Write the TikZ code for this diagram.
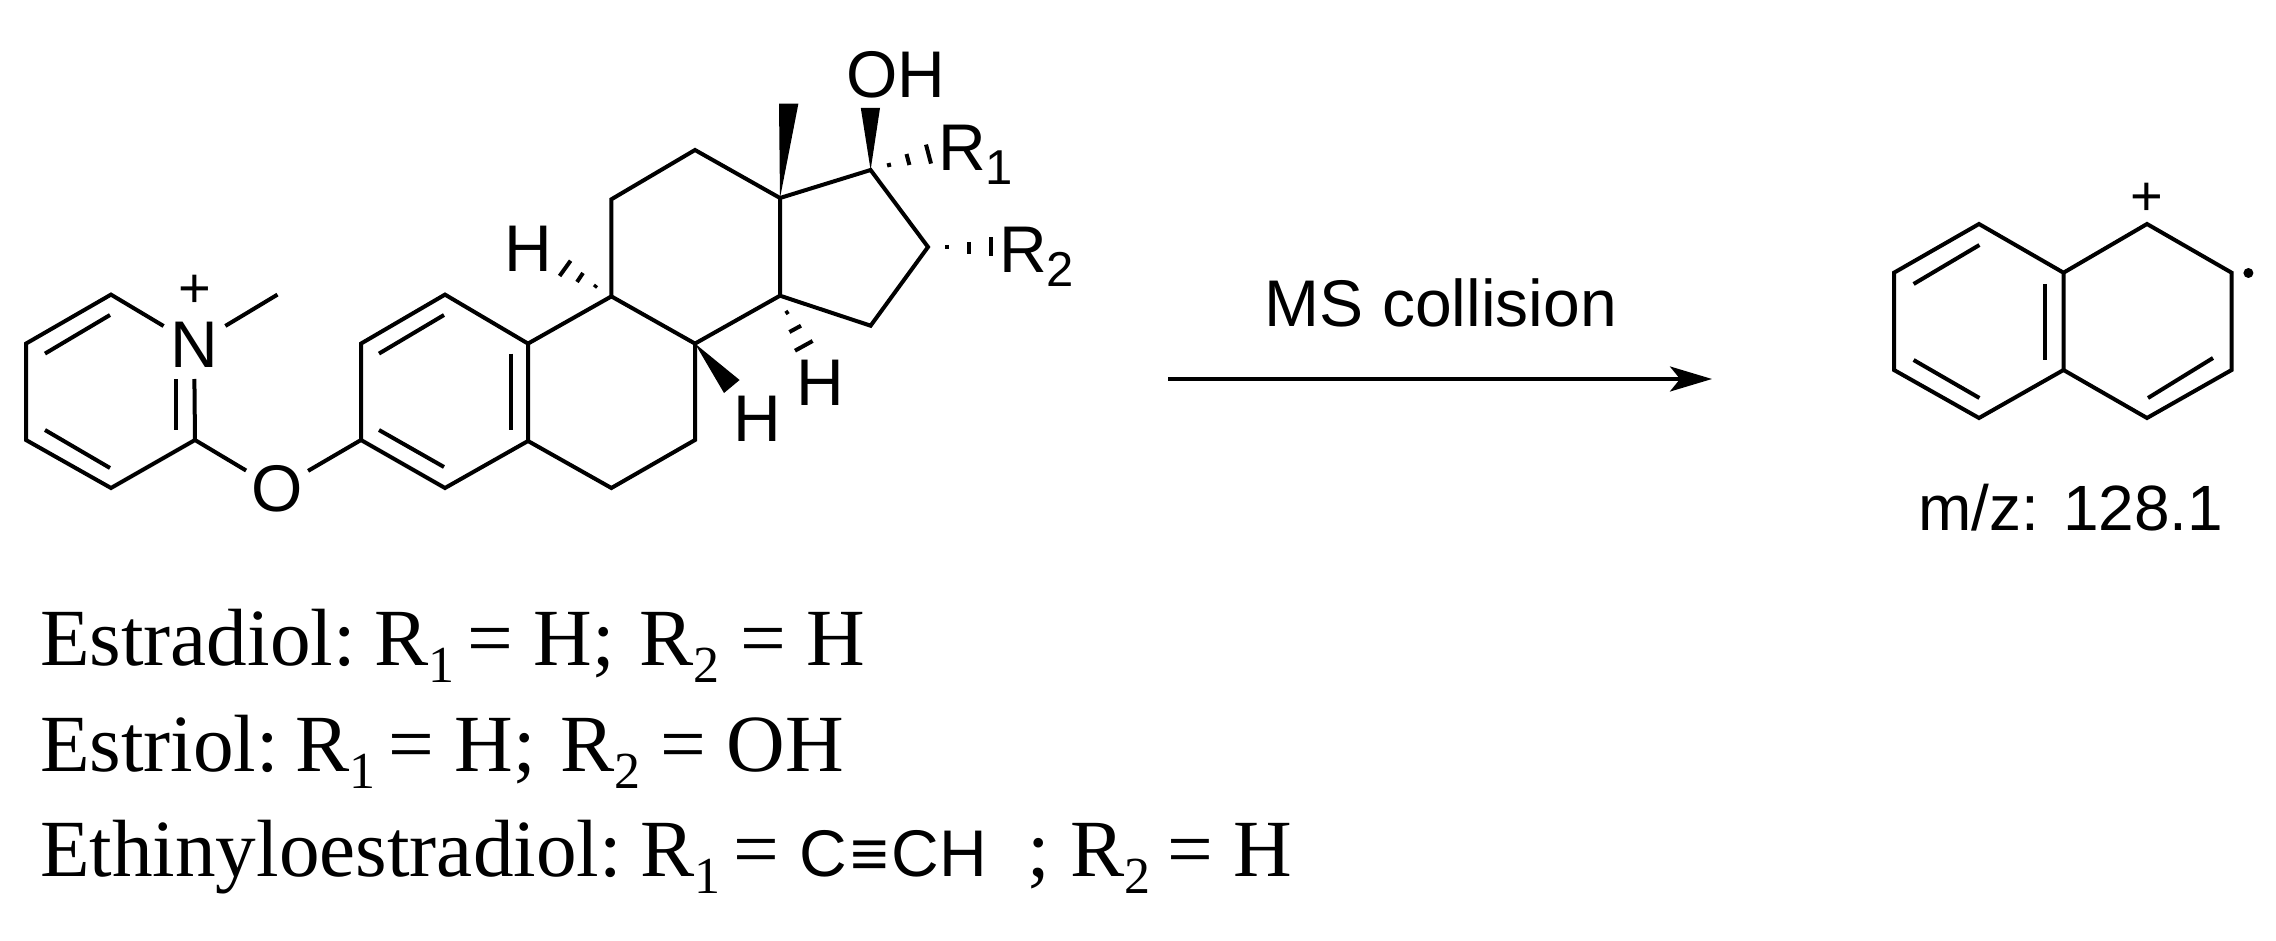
\documentclass[tikz,border=0pt]{standalone}
\usepackage{fontspec}
\setmainfont{Liberation Serif}
\newfontfamily\arialf{Liberation Sans}
\usetikzlibrary{arrows.meta}
\newcommand{\capsub}[1]{\raisebox{-8.5pt}{\fontsize{26}{26}\selectfont #1}}
\newcommand{\lblsub}[1]{\raisebox{-7pt}{\fontsize{24.5}{24.5}\selectfont #1}}
\tikzset{
  bond/.style={line width=2pt,line join=miter,line cap=butt},
  hashmark/.style={line width=2pt,line cap=butt},
  lbl/.style={inner sep=0pt,outer sep=0pt,font=\arialf\fontsize{33}{33}\selectfont},
  atomlbl/.style={lbl,circle,minimum size=36pt},
  pluslbl/.style={inner sep=0pt,outer sep=0pt,font=\arialf\fontsize{28}{28}\selectfont},
  caption/.style={inner sep=0pt,outer sep=0pt,anchor=base west,font=\fontsize{40.6}{41}\selectfont},
  rxn/.style={line width=1.7pt,-{Stealth[length=21pt,width=12.5pt,inset=5pt]}}
}
\begin{document}
\begin{tikzpicture}[x=0.5pt,y=-0.5pt]
\useasboundingbox (0,0) rectangle (2276,941);
% atoms: pyridinium
\coordinate (p1) at (111,294.6);
\coordinate (p2) at (26,343.6);
\coordinate (p3) at (26,440);
\coordinate (p4) at (111,488);
\coordinate (p5) at (195,440);
\coordinate (me) at (277.5,294.6);
\node[atomlbl] (N) at (194.5,344.5) {N};
\node[atomlbl] (O) at (277,489) {O};
\node[pluslbl] (plusN) at (194.4,291.8) {+};
% steroid
\coordinate (a3) at (361,440);
\coordinate (a2) at (361,343.6);
\coordinate (a1) at (445,294.6);
\coordinate (c10) at (528,343.6);
\coordinate (c5) at (528,441);
\coordinate (a4) at (445,488);
\coordinate (c9) at (611.4,296.4);
\coordinate (c8) at (695,343.6);
\coordinate (c7) at (695,440);
\coordinate (c6) at (611.4,488);
\coordinate (c11) at (611.4,199.3);
\coordinate (c12) at (695,150);
\coordinate (c13) at (780,198);
\coordinate (c14) at (780,295.7);
\coordinate (c15) at (870.6,325.7);
\coordinate (c16) at (928,247);
\coordinate (c17) at (870.6,170);
% ring bonds
\draw[bond] (N) -- (p1) -- (p2) -- (p3) -- (p4) -- (p5) -- (O);
\draw[bond] (N) -- (me);
\coordinate (np) at (194.4,379);
\draw[bond] (np) -- (p5);
\coordinate (i1) at (176.4,379); \coordinate (i2) at (176.4,429.6);
\draw[bond] (i1) -- (i2);
\coordinate (i3) at (45,353.6); \coordinate (i4) at (110,315);
\draw[bond] (i3) -- (i4);
\coordinate (i5) at (45,430); \coordinate (i6) at (110,468);
\draw[bond] (i5) -- (i6);
\draw[bond] (O) -- (a3);
\draw[bond] (a3) -- (a2) -- (a1) -- (c10) -- (c5) -- (a4) -- cycle;
\coordinate (j1) at (379,353.6); \coordinate (j2) at (444,315);
\draw[bond] (j1) -- (j2);
\coordinate (j3) at (379,430); \coordinate (j4) at (444,467);
\draw[bond] (j3) -- (j4);
\coordinate (j5) at (511,353.6); \coordinate (j6) at (511,429.6);
\draw[bond] (j5) -- (j6);
\draw[bond] (c10) -- (c9) -- (c8) -- (c7) -- (c6) -- (c5);
\draw[bond] (c9) -- (c11) -- (c12) -- (c13) -- (c14) -- (c8);
\draw[bond] (c13) -- (c17) -- (c16) -- (c15) -- (c14);
% wedges
\coordinate (mea) at (779,103.6); \coordinate (meb) at (798.4,103.6);
\fill (c13) -- (mea) -- (meb) -- cycle;
\coordinate (oha) at (860.8,108); \coordinate (ohb) at (880,108);
\fill (c17) -- (oha) -- (ohb) -- cycle;
\coordinate (ha) at (724,393); \coordinate (hb) at (739.6,380);
\fill (c8) -- (ha) -- (hb) -- cycle;
% hashed bonds
\coordinate (h9a) at (559.6,276); \coordinate (h9b) at (570.6,260.7);
\coordinate (h9c) at (577,282); \coordinate (h9d) at (583,273);
\coordinate (h9e) at (594.5,287.5); \coordinate (h9f) at (596.5,285);
\draw[hashmark] (h9a) -- (h9b) (h9c) -- (h9d) (h9e) -- (h9f);
\coordinate (h14a) at (795,350.7); \coordinate (h14b) at (812.6,341);
\coordinate (h14c) at (789.4,332); \coordinate (h14d) at (801,325.7);
\coordinate (h14e) at (785.5,313.5); \coordinate (h14f) at (788.5,311.5);
\draw[hashmark] (h14a) -- (h14b) (h14c) -- (h14d) (h14e) -- (h14f);
\coordinate (r1a) at (926,144.6); \coordinate (r1b) at (931,163.6);
\coordinate (r1c) at (906.5,154); \coordinate (r1d) at (909.4,165);
\coordinate (r1e) at (888.5,163); \coordinate (r1f) at (889.5,167);
\draw[hashmark] (r1a) -- (r1b) (r1c) -- (r1d) (r1e) -- (r1f);
\coordinate (r2a) at (991.4,237.5); \coordinate (r2b) at (991.4,256.4);
\coordinate (r2c) at (969.4,242); \coordinate (r2d) at (969.4,253.6);
\coordinate (r2e) at (946.5,245); \coordinate (r2f) at (946.5,249);
\draw[hashmark] (r2a) -- (r2b) (r2c) -- (r2d) (r2e) -- (r2f);
% labels
\node[lbl] (OH) at (896,75) {OH};
\node[lbl,anchor=base west] (R1) at (938,171) {R\lblsub{1}};
\node[lbl,anchor=base west] (R2) at (999,273) {R\lblsub{2}};
\node[lbl] (H9) at (528,249) {H};
\node[lbl] (H14) at (820.5,383) {H};
\node[lbl] (H8) at (757,419) {H};
% reaction arrow
\coordinate (arrA) at (1168,379);
\coordinate (arrB) at (1712,379);
\draw[rxn] (arrA) -- (arrB);
\node[lbl] (msc) at (1441,302.5) {MS collision};
% naphthalene cation radical
\coordinate (n1) at (1979,224);
\coordinate (n2) at (1894,272.7);
\coordinate (n3) at (1894,370);
\coordinate (n4) at (1979,418);
\coordinate (n5) at (2063.5,370);
\coordinate (n6) at (2063.5,272.7);
\coordinate (n7) at (2147,224);
\coordinate (n8) at (2231.6,272.7);
\coordinate (n9) at (2231.6,370);
\coordinate (n10) at (2147,418);
\draw[bond] (n1) -- (n2) -- (n3) -- (n4) -- (n5) -- (n6) -- cycle;
\draw[bond] (n6) -- (n7) -- (n8) -- (n9) -- (n10) -- (n5);
\coordinate (k1) at (1913.6,284); \coordinate (k2) at (1979.4,245);
\draw[bond] (k1) -- (k2);
\coordinate (k3) at (1913.6,360); \coordinate (k4) at (1979.4,398);
\draw[bond] (k3) -- (k4);
\coordinate (k5) at (2045,284); \coordinate (k6) at (2045,360);
\draw[bond] (k5) -- (k6);
\coordinate (k7) at (2148,398); \coordinate (k8) at (2213,358);
\draw[bond] (k7) -- (k8);
\node[pluslbl] (plusNa) at (2147,199) {+};
\node[circle,fill,inner sep=0pt,minimum size=5pt] (rad) at (2248.4,273) {};
\node[lbl,anchor=base,font=\arialf\fontsize{32}{32}\selectfont] (mz) at (2071,530) {m/z: 128.1};
% captions
\node[caption] (L1) at (40,665) {Estradiol:\hspace{9.4pt}R\capsub{1}\hspace{-3.5pt} = H;\hspace{2pt} R\capsub{2} = H};
\node[caption] (L2) at (40,771.7) {Estriol:\hspace{8pt}R\capsub{1}\hspace{-3.5pt} = H;\hspace{2pt} R\capsub{2} = OH};
\node[caption] (L3) at (40,876.7) {Ethinyloestradiol:\hspace{9.2pt}R\capsub{1}\hspace{-3.5pt} = {\arialf\fontsize{33}{33}\selectfont C\kern1.5pt≡\kern1.5pt CH}\hspace{0.5em}; R\capsub{2}\hspace{-2pt} = H};
\end{tikzpicture}
\end{document}
